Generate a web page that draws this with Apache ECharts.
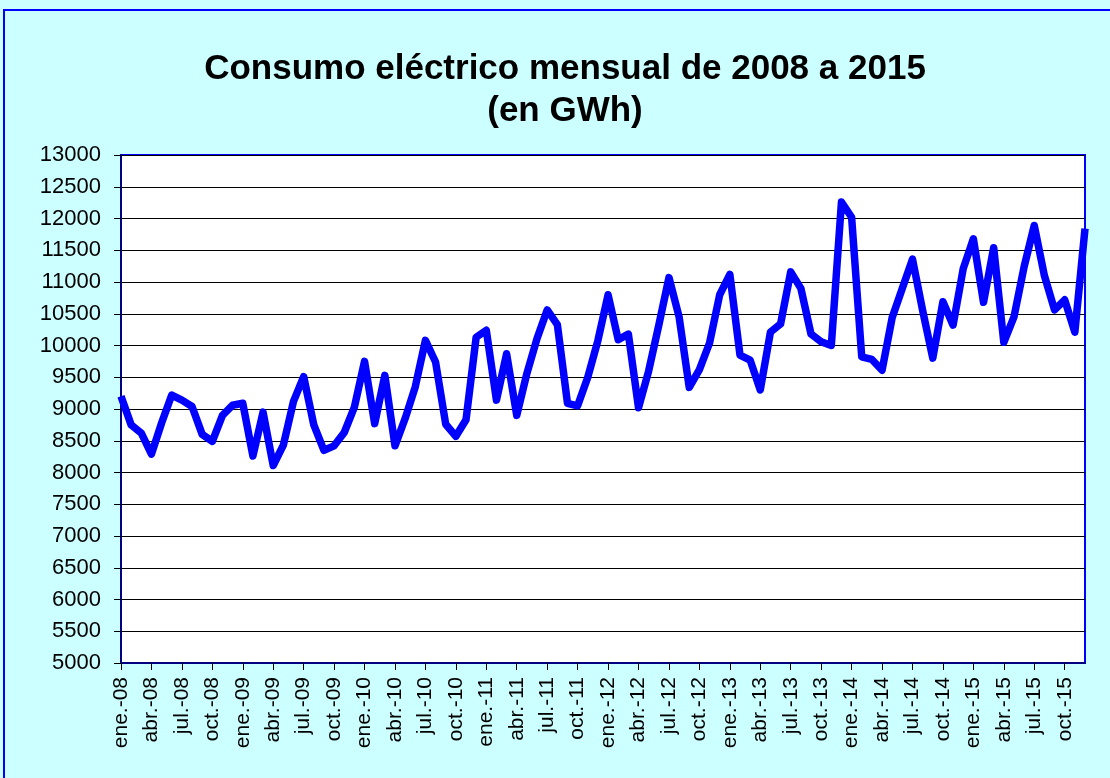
<!DOCTYPE html>
<html>
<head>
<meta charset="utf-8">
<title>Consumo eléctrico mensual</title>
<script src="https://cdn.jsdelivr.net/npm/echarts@6/dist/echarts.min.js"></script>
<style>
  html, body { margin: 0; padding: 0; background: #CCFFFF; }
  #main { width: 1110px; height: 778px; }
</style>
</head>
<body>
<div id="main"></div>
<script>
// meses y años del eje x
var meses = ['ene.', 'feb.', 'mar.', 'abr.', 'may.', 'jun.', 'jul.', 'ago.', 'sep.', 'oct.', 'nov.', 'dic.'];
var anios = ['08', '09', '10', '11', '12', '13', '14', '15'];

// consumo mensual en GWh, ene.-08 .. dic.-15
var consumo2008 = [9200, 8750, 8620, 8290, 8780, 9220, 9140, 9040, 8600, 8490, 8900, 9060];
var consumo2009 = [9090, 8260, 8950, 8110, 8430, 9120, 9510, 8750, 8350, 8420, 8630, 9030];
var consumo2010 = [9750, 8770, 9530, 8420, 8850, 9350, 10080, 9740, 8760, 8570, 8830, 10130];
var consumo2011 = [10240, 9140, 9870, 8900, 9560, 10110, 10560, 10330, 9090, 9050, 9500, 10080];
var consumo2012 = [10800, 10090, 10180, 9020, 9600, 10320, 11070, 10450, 9340, 9620, 10040, 10800];
var consumo2013 = [11120, 9850, 9770, 9300, 10210, 10340, 11160, 10900, 10180, 10060, 10000, 12260];
var consumo2014 = [12020, 9820, 9780, 9610, 10440, 10900, 11360, 10550, 9800, 10690, 10320, 11210];
var consumo2015 = [11680, 10680, 11540, 10050, 10450, 11240, 11890, 11100, 10560, 10720, 10210, 11840];

var categorias = [];
anios.forEach(function (a) {
  meses.forEach(function (m) { categorias.push(m + '-' + a); });
});
var valores = [].concat(consumo2008, consumo2009, consumo2010, consumo2011,
  consumo2012, consumo2013, consumo2014, consumo2015);

var fuente = "'Liberation Sans', Arial, sans-serif";
var chart = echarts.init(document.getElementById('main'));

var option = {
  backgroundColor: '#CCFFFF',
  animation: false,
  graphic: [
    {
      // marco exterior
      type: 'rect',
      shape: { x: 4, y: 10, width: 1130, height: 800 },
      style: { fill: 'none', stroke: '#0000FF', lineWidth: 2 },
      z: 0
    },
    {
      type: 'text',
      x: 565, y: 69,
      style: {
        text: 'Consumo eléctrico mensual de 2008 a 2015',
        font: 'bold 35px ' + fuente,
        fill: '#000',
        textAlign: 'center',
        textVerticalAlign: 'middle'
      }
    },
    {
      type: 'text',
      x: 565, y: 111,
      style: {
        text: '(en GWh)',
        font: 'bold 35px ' + fuente,
        fill: '#000',
        textAlign: 'center',
        textVerticalAlign: 'middle'
      }
    }
  ],
  grid: {
    left: 121, top: 155, right: 25, bottom: 115,
    show: true,
    backgroundColor: '#FFFFFF',
    borderColor: '#0000FF',
    borderWidth: 2
  },
  xAxis: {
    type: 'category',
    data: categorias,
    boundaryGap: false,
    axisLine: { lineStyle: { color: '#000080', width: 2 } },
    axisTick: { show: true, interval: 2, length: 7, lineStyle: { color: '#000' } },
    axisLabel: {
      interval: 2,
      rotate: 90,
      margin: 14,
      color: '#000',
      fontFamily: fuente,
      fontSize: 21
    },
    splitLine: { show: false }
  },
  yAxis: {
    type: 'value',
    min: 5000,
    max: 13000,
    interval: 500,
    axisLine: { show: true, lineStyle: { color: '#000080', width: 2 } },
    axisTick: { show: true, length: 7, lineStyle: { color: '#000' } },
    axisLabel: {
      margin: 20,
      color: '#000',
      fontFamily: fuente,
      fontSize: 22,
      formatter: function (v) { return String(v); }
    },
    splitLine: { lineStyle: { color: '#000', width: 1 } }
  },
  series: [
    {
      name: 'Consumo',
      type: 'line',
      data: valores,
      showSymbol: false,
      symbol: 'none',
      lineStyle: { color: '#0000FF', width: 7.5, join: 'round' }
    }
  ]
};
chart.setOption(option);
</script>
</body>
</html>
